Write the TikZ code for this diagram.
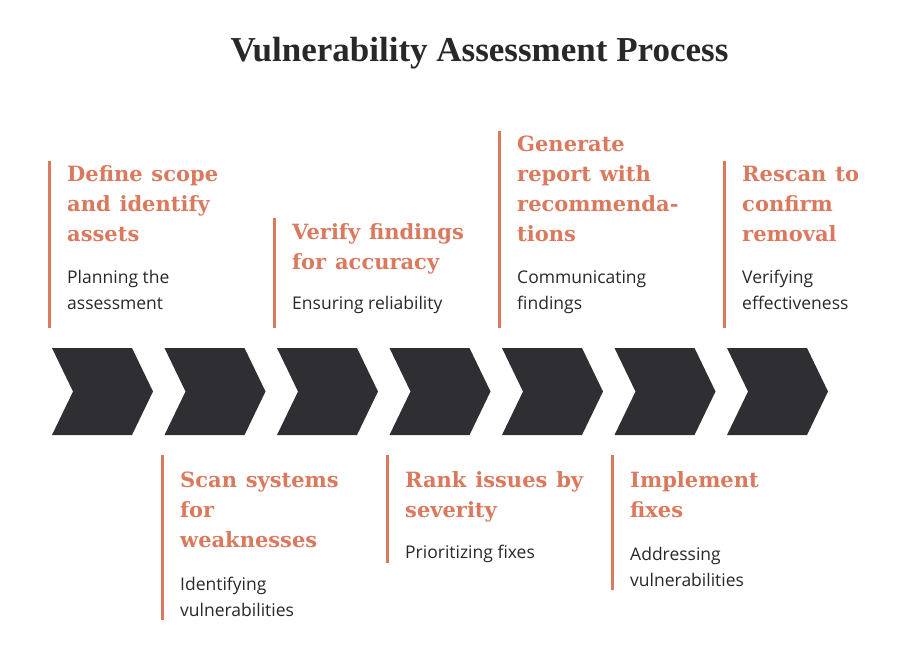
\documentclass[tikz,border=0pt]{standalone}
\usepackage{fontspec}
\setmainfont{Open Sans}
\newfontfamily\headserif{DejaVu Serif}
\newfontfamily\titleserif{Liberation Serif}
\usetikzlibrary{positioning}
\definecolor{morange}{RGB}{218, 121, 94}
\definecolor{mdark}{RGB}{47, 47, 51}
\definecolor{mtext}{RGB}{40, 40, 42}
\newcommand{\headfont}{\headserif\bfseries\fontsize{21}{30}\selectfont\spaceskip=0.42em\relax}
\newcommand{\bodyfont}{\normalfont\fontsize{17.5}{25}\selectfont\spaceskip=0pt\relax}
\tikzset{chev/.style = {fill=mdark}}
\tikzset{stepbox/.style = {inner sep=0, text width=210pt, align=left, text=mtext}}
\tikzset{bar/.style = {draw=morange, line width=2.5pt}}
\tikzset{titlenode/.style = {inner sep=0, text=mtext, font=\titleserif\bfseries\fontsize{35}{40}\selectfont}}

\begin{document}
\begin{tikzpicture}[x=1pt, y=-1pt]
      \useasboundingbox (0, 0) rectangle (904, 650);

      \node [titlenode, anchor=base] (title) at (479.5, 62) {Vulnerability Assessment Process};

      % chevrons
      \fill [chev] (52, 348) -- ++(80, 0) -- ++(21, 43.5) -- ++(-21, 43.5) -- ++(-80, 0) -- ++(21, -43.5) -- cycle;
      \fill [chev] (164.5, 348) -- ++(80, 0) -- ++(21, 43.5) -- ++(-21, 43.5) -- ++(-80, 0) -- ++(21, -43.5) -- cycle;
      \fill [chev] (277, 348) -- ++(80, 0) -- ++(21, 43.5) -- ++(-21, 43.5) -- ++(-80, 0) -- ++(21, -43.5) -- cycle;
      \fill [chev] (389.5, 348) -- ++(80, 0) -- ++(21, 43.5) -- ++(-21, 43.5) -- ++(-80, 0) -- ++(21, -43.5) -- cycle;
      \fill [chev] (502, 348) -- ++(80, 0) -- ++(21, 43.5) -- ++(-21, 43.5) -- ++(-80, 0) -- ++(21, -43.5) -- cycle;
      \fill [chev] (614.5, 348) -- ++(80, 0) -- ++(21, 43.5) -- ++(-21, 43.5) -- ++(-80, 0) -- ++(21, -43.5) -- cycle;
      \fill [chev] (727, 348) -- ++(80, 0) -- ++(21, 43.5) -- ++(-21, 43.5) -- ++(-80, 0) -- ++(21, -43.5) -- cycle;

      % steps above
      \node [stepbox, anchor=south west] (scope) at (67, 317.5)
        {\headfont\strut{\color{morange}Define scope\\and identify\\assets}\par\vspace{17pt}
         \bodyfont\strut Planning the\\assessment\strut};
      \node [stepbox, anchor=south west] (verify) at (292, 317.5)
        {\headfont\strut{\color{morange}Verify findings\\for accuracy}\par\vspace{17pt}
         \bodyfont\strut Ensuring reliability\strut};
      \node [stepbox, anchor=south west] (report) at (517, 317.5)
        {\headfont\strut{\color{morange}Generate\\report with\\recommenda-\\tions}\par\vspace{17pt}
         \bodyfont\strut Communicating\\findings\strut};
      \node [stepbox, anchor=south west] (rescan) at (742, 317.5)
        {\headfont\strut{\color{morange}Rescan to\\confirm\\removal}\par\vspace{17pt}
         \bodyfont\strut Verifying\\effectiveness\strut};

      % steps below
      \node [stepbox, anchor=north west] (scan) at (180, 466)
        {\headfont\strut{\color{morange}Scan systems\\for\\weaknesses}\par\vspace{18pt}
         \bodyfont\strut Identifying\\vulnerabilities\strut};
      \node [stepbox, anchor=north west] (rank) at (405, 466)
        {\headfont\strut{\color{morange}Rank issues by\\severity}\par\vspace{18pt}
         \bodyfont\strut Prioritizing fixes\strut};
      \node [stepbox, anchor=north west] (fixes) at (630, 466)
        {\headfont\strut{\color{morange}Implement\\fixes}\par\vspace{18pt}
         \bodyfont\strut Addressing\\vulnerabilities\strut};

      \draw [bar] ([xshift=-17.5pt]scope.north west) -- ([xshift=-17.5pt, yshift=-10.5pt]scope.south west);
      \draw [bar] ([xshift=-17.5pt]verify.north west) -- ([xshift=-17.5pt, yshift=-10.5pt]verify.south west);
      \draw [bar] ([xshift=-17.5pt]report.north west) -- ([xshift=-17.5pt, yshift=-10.5pt]report.south west);
      \draw [bar] ([xshift=-17.5pt]rescan.north west) -- ([xshift=-17.5pt, yshift=-10.5pt]rescan.south west);

      \draw [bar] ([xshift=-17.5pt, yshift=11pt]scan.north west) -- ([xshift=-17.5pt, yshift=3.5pt]scan.south west);
      \draw [bar] ([xshift=-17.5pt, yshift=11pt]rank.north west) -- ([xshift=-17.5pt, yshift=3.5pt]rank.south west);
      \draw [bar] ([xshift=-17.5pt, yshift=11pt]fixes.north west) -- ([xshift=-17.5pt, yshift=3.5pt]fixes.south west);
    \end{tikzpicture}
\end{document}
